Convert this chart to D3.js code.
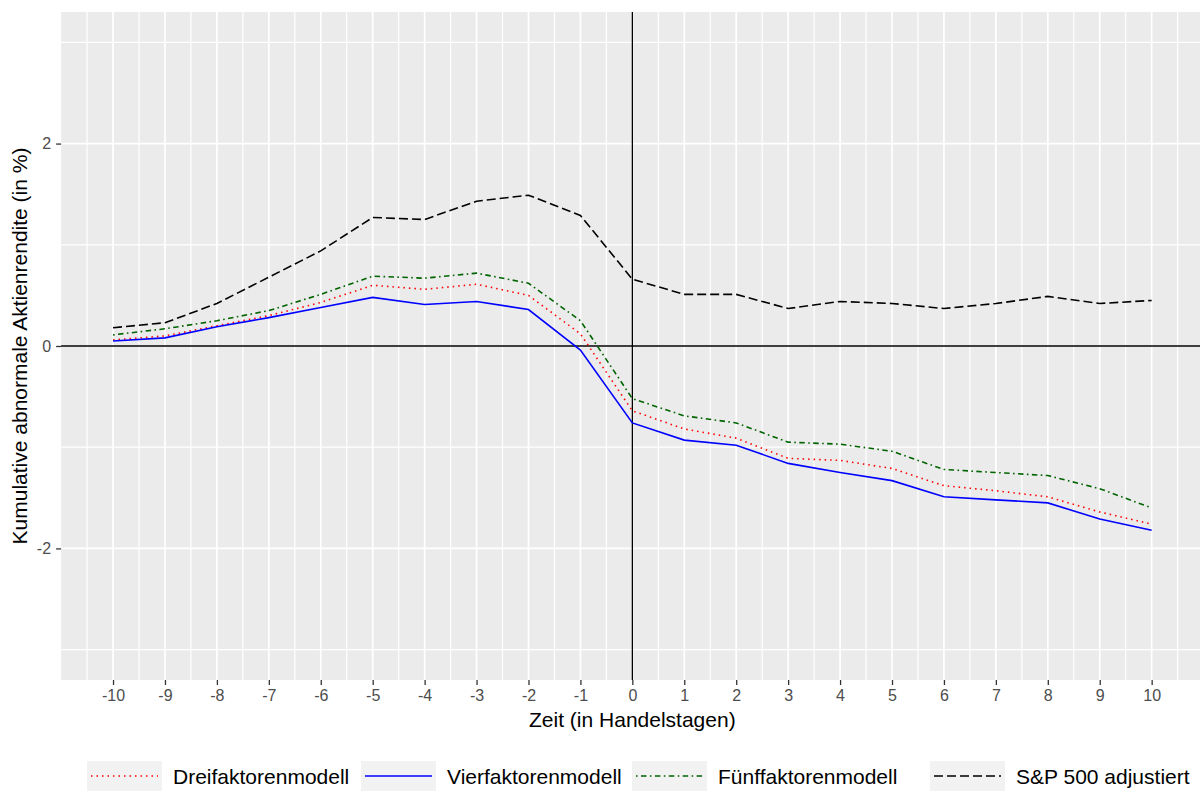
<!DOCTYPE html>
<html>
<head>
<meta charset="utf-8">
<script src="https://cdn.jsdelivr.net/npm/d3@7"></script>
<style>
  body { margin: 0; background: #fff; }
  svg { display: block; font-family: "Liberation Sans", Arial, sans-serif; }
</style>
</head>
<body>
<svg id="chart" width="1200" height="794"></svg>
<script>
const days = [-10,-9,-8,-7,-6,-5,-4,-3,-2,-1,0,1,2,3,4,5,6,7,8,9,10];
const dreifaktor  = [0.06,0.10,0.20,0.30,0.43,0.60,0.56,0.61,0.50,0.12,-0.64,-0.82,-0.91,-1.11,-1.13,-1.21,-1.38,-1.43,-1.49,-1.64,-1.76];
const vierfaktor  = [0.05,0.08,0.19,0.28,0.38,0.48,0.41,0.44,0.36,-0.04,-0.76,-0.93,-0.98,-1.16,-1.25,-1.33,-1.49,-1.52,-1.55,-1.71,-1.82];
const fuenffaktor = [0.11,0.17,0.25,0.35,0.51,0.69,0.67,0.72,0.62,0.25,-0.52,-0.69,-0.76,-0.95,-0.97,-1.04,-1.22,-1.25,-1.28,-1.41,-1.60];
const sp500       = [0.18,0.23,0.42,0.68,0.94,1.27,1.25,1.43,1.49,1.29,0.66,0.51,0.51,0.37,0.44,0.42,0.37,0.42,0.49,0.42,0.45];

const seriesNames = ["Dreifaktorenmodell","Vierfaktorenmodell","Fünffaktorenmodell","S&P 500 adjustiert"];
const seriesValues = [dreifaktor, vierfaktor, fuenffaktor, sp500];
const seriesColors = ["#FF0000","#0000FF","#006400","#000000"];
const seriesDash = ["1.5,4","none","1.6,3.4,5.5,3.4","9,4"];

const xTicks = days;
const yTicks = [-2, 0, 2];
const yMinor = [-3, -1, 1, 3];
const xMinor = d3.range(-10.5, 11, 1);

const svg = d3.select("#chart");
const panel = {left: 61.1, top: 12, right: 1203.6, bottom: 680};

const x = d3.scaleLinear().domain([-11, 11]).range([panel.left, panel.right]);
const y = d3.scaleLinear().domain([-3.3, 3.3]).range([panel.bottom, panel.top]);

svg.append("defs").append("clipPath").attr("id","clip")
  .append("rect").attr("x", panel.left).attr("y", panel.top)
  .attr("width", panel.right - panel.left).attr("height", panel.bottom - panel.top);

const g = svg.append("g").attr("clip-path","url(#clip)");
g.append("rect").attr("x", panel.left).attr("y", panel.top)
  .attr("width", panel.right - panel.left).attr("height", panel.bottom - panel.top)
  .attr("fill", "#EBEBEB");

// minor grid
g.selectAll(".vminor").data(xMinor).enter().append("line")
  .attr("x1", d => x(d)).attr("x2", d => x(d)).attr("y1", panel.top).attr("y2", panel.bottom)
  .attr("stroke", "#fff").attr("stroke-width", 1.2);
g.selectAll(".hminor").data(yMinor).enter().append("line")
  .attr("y1", d => y(d)).attr("y2", d => y(d)).attr("x1", panel.left).attr("x2", panel.right)
  .attr("stroke", "#fff").attr("stroke-width", 1.2);
// major grid
g.selectAll(".vmajor").data(xTicks).enter().append("line")
  .attr("x1", d => x(d)).attr("x2", d => x(d)).attr("y1", panel.top).attr("y2", panel.bottom)
  .attr("stroke", "#fff").attr("stroke-width", 1.7);
g.selectAll(".hmajor").data(yTicks).enter().append("line")
  .attr("y1", d => y(d)).attr("y2", d => y(d)).attr("x1", panel.left).attr("x2", panel.right)
  .attr("stroke", "#fff").attr("stroke-width", 1.7);

// reference lines
g.append("line").attr("x1", panel.left).attr("x2", panel.right).attr("y1", y(0)).attr("y2", y(0))
  .attr("stroke", "#000").attr("stroke-width", 1.3);
g.append("line").attr("x1", x(0)).attr("x2", x(0)).attr("y1", panel.top).attr("y2", panel.bottom)
  .attr("stroke", "#000").attr("stroke-width", 1.3);

// series
const line = d3.line().x((d, i) => x(days[i])).y(d => y(d));
seriesValues.forEach((vals, k) => {
  g.append("path").datum(vals).attr("d", line)
    .attr("fill", "none").attr("stroke", seriesColors[k]).attr("stroke-width", 1.6)
    .attr("stroke-dasharray", seriesDash[k]);
});

// axes
const fmt = d => String(d);
const xAxis = d3.axisBottom(x).tickValues(xTicks).tickSize(5).tickPadding(5).tickFormat(fmt);
const gx = svg.append("g").attr("transform", `translate(0,${panel.bottom})`).call(xAxis);
gx.select(".domain").remove();
gx.selectAll(".tick line").attr("stroke", "#333").attr("stroke-width", 1.3);
gx.selectAll(".tick text").attr("fill", "#4D4D4D").attr("font-size", 16)
  .attr("font-family", "'Liberation Sans', Arial, sans-serif").attr("dy", "0.71em");

const yAxis = d3.axisLeft(y).tickValues(yTicks).tickSize(5).tickPadding(5).tickFormat(fmt);
const gy = svg.append("g").attr("transform", `translate(${panel.left},0)`).call(yAxis);
gy.select(".domain").remove();
gy.selectAll(".tick line").attr("stroke", "#333").attr("stroke-width", 1.3);
gy.selectAll(".tick text").attr("fill", "#4D4D4D").attr("font-size", 16)
  .attr("font-family", "'Liberation Sans', Arial, sans-serif");

// axis titles
svg.append("text").attr("x", x(0)).attr("y", 727).attr("text-anchor", "middle")
  .attr("font-size", 21).attr("fill", "#000").text("Zeit (in Handelstagen)");
svg.append("text").attr("transform", `translate(27,${(panel.top + panel.bottom) / 2}) rotate(-90)`)
  .attr("text-anchor", "middle").attr("font-size", 21).attr("fill", "#000")
  .text("Kumulative abnormale Aktienrendite (in %)");

// legend
const legendX = [87, 361, 632, 930];
const keyW = 75, keyH = 30, keyY = 761;
const lg = svg.append("g");
seriesNames.forEach((name, k) => {
  const gx0 = legendX[k];
  lg.append("rect").attr("x", gx0).attr("y", keyY).attr("width", keyW).attr("height", keyH).attr("fill", "#F2F2F2");
  lg.append("line").attr("x1", gx0 + 4).attr("x2", gx0 + keyW - 4)
    .attr("y1", keyY + keyH / 2).attr("y2", keyY + keyH / 2)
    .attr("stroke", seriesColors[k]).attr("stroke-width", 1.6).attr("stroke-dasharray", seriesDash[k]);
  lg.append("text").attr("x", gx0 + keyW + 11).attr("y", keyY + keyH / 2).attr("dy", "0.36em")
    .attr("font-size", 21).attr("fill", "#000").text(name);
});
</script>
</body>
</html>
